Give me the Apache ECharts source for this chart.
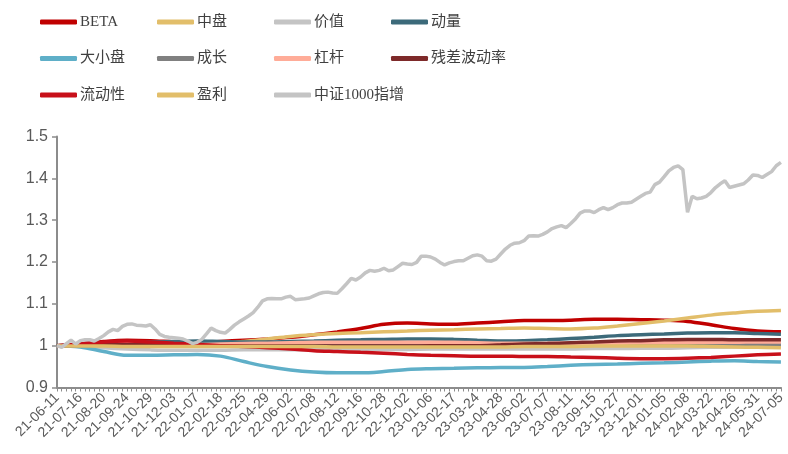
<!DOCTYPE html>
<html>
<head>
<meta charset="utf-8">
<title>因子暴露与中证1000指增净值</title>
<script src="https://cdn.jsdelivr.net/npm/echarts@6/dist/echarts.min.js"></script>
<style>
  html, body { margin: 0; padding: 0; background: #fff; }
  #chart { width: 788px; height: 454px; }
</style>
</head>
<body>
<div id="chart"></div>
<script>
// Weekly trading dates (last trading day of each week)
const dates = [
  '21-06-11','21-06-18','21-06-25','21-07-02','21-07-09','21-07-16','21-07-23','21-07-30','21-08-06','21-08-13',
  '21-08-20','21-08-27','21-09-03','21-09-10','21-09-17','21-09-24','21-09-30','21-10-08','21-10-15','21-10-22',
  '21-10-29','21-11-05','21-11-12','21-11-19','21-11-26','21-12-03','21-12-10','21-12-17','21-12-24','21-12-31',
  '22-01-07','22-01-14','22-01-21','22-01-28','22-02-11','22-02-18','22-02-25','22-03-04','22-03-11','22-03-18',
  '22-03-25','22-04-01','22-04-08','22-04-15','22-04-22','22-04-29','22-05-06','22-05-13','22-05-20','22-05-27',
  '22-06-02','22-06-10','22-06-17','22-06-24','22-07-01','22-07-08','22-07-15','22-07-22','22-07-29','22-08-05',
  '22-08-12','22-08-19','22-08-26','22-09-02','22-09-09','22-09-16','22-09-23','22-09-30','22-10-14','22-10-21',
  '22-10-28','22-11-04','22-11-11','22-11-18','22-11-25','22-12-02','22-12-09','22-12-16','22-12-23','22-12-30',
  '23-01-06','23-01-13','23-01-20','23-02-03','23-02-10','23-02-17','23-02-24','23-03-03','23-03-10','23-03-17',
  '23-03-24','23-03-31','23-04-07','23-04-14','23-04-21','23-04-28','23-05-05','23-05-12','23-05-19','23-05-26',
  '23-06-02','23-06-09','23-06-16','23-06-21','23-06-30','23-07-07','23-07-14','23-07-21','23-07-28','23-08-04',
  '23-08-11','23-08-18','23-08-25','23-09-01','23-09-08','23-09-15','23-09-22','23-09-28','23-10-13','23-10-20',
  '23-10-27','23-11-03','23-11-10','23-11-17','23-11-24','23-12-01','23-12-08','23-12-15','23-12-22','23-12-29',
  '24-01-05','24-01-12','24-01-19','24-01-26','24-02-02','24-02-08','24-02-23','24-03-01','24-03-08','24-03-15',
  '24-03-22','24-03-29','24-04-03','24-04-12','24-04-19','24-04-26','24-04-30','24-05-10','24-05-17','24-05-24',
  '24-05-31','24-06-07','24-06-14','24-06-21','24-06-28','24-07-05'
];

// Dates shown as axis labels; factor curves are sampled on these dates
const labelDates = [
  '21-06-11','21-07-16','21-08-20','21-09-24','21-10-29','21-12-03','22-01-07','22-02-18',
  '22-03-25','22-04-29','22-06-02','22-07-08','22-08-12','22-09-16','22-10-28','22-12-02',
  '23-01-06','23-02-17','23-03-24','23-04-28','23-06-02','23-07-07','23-08-11','23-09-15',
  '23-10-27','23-12-01','24-01-05','24-02-08','24-03-22','24-04-26','24-05-31','24-07-05'
];

// 中证1000指增 weekly net value
const zz1000 = [
  1.000,0.996,1.005,1.013,1.004,1.012,1.014,1.014,1.011,1.017,
  1.024,1.033,1.039,1.036,1.046,1.051,1.052,1.049,1.048,1.047,
  1.050,1.040,1.027,1.022,1.020,1.019,1.018,1.016,1.011,1.005,
  1.008,1.015,1.028,1.042,1.036,1.032,1.030,1.039,1.049,1.057,
  1.064,1.071,1.079,1.092,1.107,1.112,1.113,1.112,1.112,1.116,
  1.118,1.110,1.111,1.112,1.114,1.119,1.124,1.127,1.128,1.126,
  1.125,1.136,1.148,1.161,1.157,1.164,1.174,1.180,1.178,1.180,
  1.185,1.179,1.181,1.189,1.197,1.195,1.194,1.199,1.214,1.214,
  1.212,1.207,1.199,1.193,1.198,1.201,1.203,1.203,1.209,1.215,
  1.217,1.214,1.203,1.202,1.207,1.219,1.231,1.240,1.245,1.246,
  1.251,1.262,1.263,1.262,1.266,1.272,1.280,1.284,1.287,1.282,
  1.292,1.303,1.317,1.322,1.322,1.318,1.325,1.330,1.325,1.330,
  1.337,1.341,1.341,1.343,1.350,1.357,1.364,1.367,1.385,1.391,
  1.404,1.418,1.426,1.430,1.421,1.319,1.357,1.351,1.353,1.357,
  1.366,1.378,1.387,1.394,1.378,1.381,1.384,1.387,1.396,1.408,
  1.407,1.402,1.409,1.416,1.430,1.438
];

// Factor curves (values on labelDates)
const beta = [1.000,1.004,1.010,1.013,1.012,1.009,1.007,1.010,1.013,1.016,1.020,1.026,1.033,1.041,1.051,1.054,
              1.052,1.051,1.054,1.057,1.060,1.060,1.061,1.063,1.063,1.062,1.061,1.058,1.050,1.041,1.035,1.033];
const midCap = [1.000,1.000,0.999,0.999,1.000,1.001,1.002,1.005,1.010,1.016,1.022,1.026,1.029,1.031,1.033,1.035,
                1.037,1.038,1.040,1.041,1.042,1.041,1.040,1.042,1.047,1.053,1.059,1.066,1.073,1.078,1.082,1.084];
const value = [1.000,0.998,0.995,0.992,0.990,0.989,0.989,0.989,0.990,0.990,0.990,0.990,0.990,0.991,0.991,0.991,
               0.992,0.992,0.992,0.992,0.992,0.992,0.992,0.993,0.993,0.994,0.994,0.995,0.996,0.997,0.998,0.999];
const momentum = [1.000,1.003,1.006,1.008,1.009,1.010,1.011,1.010,1.009,1.009,1.010,1.011,1.013,1.014,1.015,1.016,
                  1.016,1.015,1.013,1.011,1.012,1.014,1.017,1.020,1.024,1.026,1.028,1.030,1.031,1.031,1.029,1.027];
const size = [1.000,0.997,0.986,0.977,0.977,0.978,0.979,0.975,0.962,0.950,0.942,0.937,0.935,0.935,0.938,0.943,
              0.945,0.946,0.947,0.948,0.948,0.950,0.953,0.955,0.956,0.958,0.959,0.961,0.963,0.964,0.962,0.961];
const growth = [1.000,1.000,1.001,1.001,1.001,1.000,1.000,1.000,1.000,1.000,1.001,1.001,1.001,1.001,1.001,1.001,
                1.001,1.001,1.001,1.001,1.002,1.002,1.002,1.002,1.002,1.003,1.003,1.003,1.003,1.003,1.003,1.003];
const leverage = [1.000,1.002,1.004,1.005,1.005,1.004,1.003,1.004,1.005,1.006,1.007,1.008,1.008,1.008,1.008,1.008,
                  1.008,1.008,1.007,1.006,1.006,1.006,1.006,1.006,1.006,1.007,1.007,1.008,1.008,1.008,1.009,1.009];
const resVol = [1.000,1.001,1.002,1.002,1.002,1.001,1.000,1.000,0.999,0.999,0.999,0.999,0.999,0.999,0.999,0.999,
                1.000,1.000,1.000,1.002,1.004,1.005,1.007,1.009,1.011,1.012,1.014,1.015,1.015,1.014,1.014,1.014];
const liquidity = [1.000,1.004,1.009,1.011,1.009,1.006,1.003,1.000,0.998,0.995,0.992,0.988,0.986,0.984,0.982,0.979,
                   0.977,0.976,0.975,0.975,0.974,0.974,0.973,0.972,0.970,0.969,0.969,0.970,0.972,0.975,0.978,0.980];
const earnings = [1.000,0.999,0.999,0.998,0.998,0.998,0.998,0.998,0.998,0.998,0.998,0.998,0.997,0.997,0.997,0.997,
                  0.997,0.997,0.997,0.997,0.998,0.998,0.998,0.999,0.999,0.999,0.999,0.999,0.998,0.997,0.996,0.995];

const yTicks = { min: 0.9, max: 1.5, interval: 0.1 };

const factorSeries = [
  ['BETA', beta, '#C00000'],
  ['中盘', midCap, '#E2BE6A'],
  ['价值', value, '#C4C4C4'],
  ['动量', momentum, '#3C6A7A'],
  ['大小盘', size, '#5FAFC8'],
  ['成长', growth, '#808080'],
  ['杠杆', leverage, '#FFAC98'],
  ['残差波动率', resVol, '#7E2A2A'],
  ['流动性', liquidity, '#C8101A'],
  ['盈利', earnings, '#E2BE6A']
];

const series = factorSeries.map(([name, vals, color]) => ({
  name,
  type: 'line',
  data: labelDates.map((d, i) => [d, vals[i]]),
  smooth: 0.35,
  symbol: 'none',
  lineStyle: { width: 3.5, color },
  itemStyle: { color }
}));

series.push({
  name: '中证1000指增',
  type: 'line',
  data: zz1000,
  symbol: 'none',
  lineStyle: { width: 3.5, color: '#C4C4C4' },
  itemStyle: { color: '#C4C4C4' }
});

const legendCols = [
  { left: 40, data: ['BETA', '大小盘', '流动性'] },
  { left: 157, data: ['中盘', '成长', '盈利'] },
  { left: 274, data: ['价值', '杠杆', '中证1000指增'] },
  { left: 391, data: ['动量', '残差波动率'] }
];

const legend = legendCols.map(c => ({
  orient: 'vertical',
  left: c.left,
  top: 12,
  padding: 0,
  itemWidth: 37,
  itemHeight: 5,
  itemGap: 16.5,
  icon: 'roundRect',
  data: c.data,
  selectedMode: false,
  textStyle: {
    fontFamily: '"Liberation Serif", "Noto Sans CJK SC", serif',
    fontSize: 15,
    color: '#404040',
    lineHeight: 20,
    padding: [0, 0, 0, -2]
  }
}));

const chart = echarts.init(document.getElementById('chart'));
chart.setOption({
  animation: false,
  backgroundColor: '#fff',
  legend,
  grid: { left: 57, right: 3, top: 136.5, bottom: 66.5, containLabel: false },
  xAxis: {
    type: 'category',
    data: dates,
    boundaryGap: false,
    axisLine: { lineStyle: { color: '#8C8C8C', width: 2 } },
    axisTick: { show: true, interval: 0, length: 4, lineStyle: { color: '#8C8C8C', width: 1 } },
    axisLabel: {
      interval: 4,
      rotate: 45,
      fontFamily: '"Liberation Sans", Arial, sans-serif',
      fontSize: 14,
      color: '#595959',
      margin: 8
    },
    splitLine: { show: false }
  },
  yAxis: {
    type: 'value',
    min: yTicks.min,
    max: yTicks.max,
    interval: yTicks.interval,
    axisLine: { show: true, lineStyle: { color: '#8C8C8C', width: 2 } },
    axisTick: { show: true, length: 5, lineStyle: { color: '#8C8C8C', width: 1.5 } },
    axisLabel: {
      fontFamily: '"Liberation Sans", Arial, sans-serif',
      fontSize: 16,
      color: '#595959',
      margin: 9
    },
    splitLine: { show: false }
  },
  series
});
</script>
</body>
</html>
